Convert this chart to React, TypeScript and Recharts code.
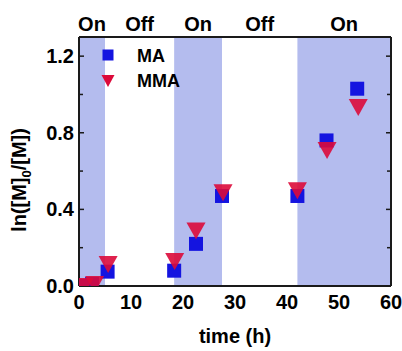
import React from 'react';
import {
  ScatterChart,
  Scatter,
  XAxis,
  YAxis,
  ReferenceArea,
  Legend,
} from 'recharts';

// reaction time (h) and conversion values
const maTime = [0.5, 2.5, 5.5, 18.3, 22.5, 27.5, 42, 47.6, 53.5];
const maValue = [0.0, 0.01, 0.075, 0.08, 0.22, 0.47, 0.47, 0.76, 1.03];
const mmaTime = [1, 3, 5.6, 18.4, 22.5, 27.7, 42, 47.7, 53.7];
const mmaValue = [0.0, 0.01, 0.115, 0.13, 0.29, 0.49, 0.5, 0.71, 0.935];

// light on / off periods
const phaseStart = [0, 5, 18.3, 27.5, 42];
const phaseEnd = [5, 18.3, 27.5, 42, 60];
const phaseLabel = ['On', 'Off', 'On', 'Off', 'On'];

const xMajorTicks = [0, 10, 20, 30, 40, 50, 60];
const xMinorTicks = [5, 15, 25, 35, 45, 55];
const yMajorTicks = [0, 0.4, 0.8, 1.2];
const yMinorTicks = [0.2, 0.6, 1.0];

const maData = maTime.map((t, i) => ({ t, v: maValue[i] }));
const mmaData = mmaTime.map((t, i) => ({ t, v: mmaValue[i] }));

const FONT = '"Liberation Sans", Arial, sans-serif';
const BLUE = '#1414e0';
const RED = '#dc0a3a';
const SHADE = '#b4bcee';
const AXIS = '#1a1a1a';

const SquareMark = ({ cx, cy }: any) => (
  <rect x={cx - 7} y={cy - 7} width={14} height={14} fill={BLUE} />
);

const TriangleMark = ({ cx, cy }: any) => (
  <polygon
    points={`${cx - 9.5},${cy - 8} ${cx + 9.5},${cy - 8} ${cx},${cy + 9}`}
    fill={RED}
    fillOpacity={0.9}
  />
);

const NoLabel = () => <g />;

const tickStyle = { fill: '#000', fontSize: 20, fontWeight: 'bold', fontFamily: FONT };
const tickLineStyle = { stroke: AXIS, strokeWidth: 1.5 };

const YLabel = () => (
  <text
    transform="translate(26,180) rotate(-90)"
    textAnchor="middle"
    fontFamily={FONT}
    fontWeight="bold"
    fontSize={20}
    fill="#000"
  >
    ln([M]
    <tspan fontSize={13} dy={5}>0</tspan>
    <tspan dy={-5}>/[M])</tspan>
  </text>
);

const XLabel = () => (
  <text x={235} y={343} textAnchor="middle" fontFamily={FONT} fontWeight="bold" fontSize={20} fill="#000">
    time (h)
  </text>
);

const LegendBox = () => (
  <svg width={100} height={50} style={{ display: 'block' }}>
    <rect x={2.5} y={4.5} width={11} height={11} fill={BLUE} />
    <polygon points="1.5,30 14.5,30 8,42" fill={RED} />
    <text x={37} y={17} fontFamily={FONT} fontWeight="bold" fontSize={18} fill="#000">MA</text>
    <text x={37} y={42} fontFamily={FONT} fontWeight="bold" fontSize={18} fill="#000">MMA</text>
  </svg>
);

// tick-mark-only axes drawn inside the frame
const xMarks = (id: string, orientation: 'top' | 'bottom', ticks: number[], size: number, line: boolean) => (
  <XAxis
    xAxisId={id}
    orientation={orientation}
    type="number"
    domain={[0, 60]}
    allowDataOverflow
    ticks={ticks}
    interval={0}
    mirror
    height={1}
    axisLine={line ? { stroke: AXIS, strokeWidth: 2 } : false}
    tick={NoLabel}
    tickSize={size}
    tickLine={tickLineStyle}
  />
);

const yMarks = (id: string, orientation: 'left' | 'right', ticks: number[], size: number, line: boolean) => (
  <YAxis
    yAxisId={id}
    orientation={orientation}
    type="number"
    domain={[0, 1.3]}
    allowDataOverflow
    ticks={ticks}
    interval={0}
    mirror
    width={1}
    axisLine={line ? { stroke: AXIS, strokeWidth: 2 } : false}
    tick={NoLabel}
    tickSize={size}
    tickLine={tickLineStyle}
  />
);

const App = () => {
  return (
    <div style={{ position: 'absolute', left: 0, top: 0, background: '#fff' }}>
      <ScatterChart width={402} height={351} margin={{ top: 37, right: 11, bottom: 35, left: 20 }}>
        <XAxis
          xAxisId="b"
          type="number"
          dataKey="t"
          domain={[0, 60]}
          ticks={xMajorTicks}
          interval={0}
          allowDataOverflow
          height={30}
          tickLine={false}
          tickSize={0}
          tickMargin={9}
          axisLine={{ stroke: AXIS, strokeWidth: 2 }}
          tick={tickStyle}
          label={<XLabel />}
        />
        {xMarks('bm', 'bottom', xMajorTicks, 5, false)}
        {xMarks('bn', 'bottom', xMinorTicks, 3, false)}
        {xMarks('t', 'top', xMajorTicks, 5, true)}
        {xMarks('tn', 'top', xMinorTicks, 3, false)}

        <YAxis
          yAxisId="l"
          type="number"
          dataKey="v"
          domain={[0, 1.3]}
          ticks={yMajorTicks}
          interval={0}
          allowDataOverflow
          width={59}
          tickLine={false}
          tickSize={0}
          tickMargin={5}
          axisLine={{ stroke: AXIS, strokeWidth: 2 }}
          tick={tickStyle}
          tickFormatter={(v: number) => v.toFixed(1)}
          label={<YLabel />}
        />
        {yMarks('lm', 'left', yMajorTicks, 5, false)}
        {yMarks('ln', 'left', yMinorTicks, 3, false)}
        {yMarks('r', 'right', yMajorTicks, 5, true)}
        {yMarks('rn', 'right', yMinorTicks, 3, false)}

        {phaseStart.map((s, i) => (
          <ReferenceArea
            key={i}
            xAxisId="b"
            yAxisId="l"
            x1={s}
            x2={phaseEnd[i]}
            fill={SHADE}
            fillOpacity={phaseLabel[i] === 'On' ? 1 : 0}
            stroke="none"
            label={{
              value: phaseLabel[i],
              position: 'top',
              offset: 6,
              fill: '#000',
              fontSize: 20,
              fontWeight: 'bold',
              fontFamily: FONT,
            }}
          />
        ))}

        <Scatter name="MA" xAxisId="b" yAxisId="l" data={maData} shape={SquareMark} isAnimationActive={false} />
        <Scatter name="MMA" xAxisId="b" yAxisId="l" data={mmaData} shape={TriangleMark} isAnimationActive={false} />

        <Legend
          layout="horizontal"
          verticalAlign="middle"
          align="center"
          wrapperStyle={{ left: 100, top: 45, width: 100 }}
          content={() => <LegendBox />}
        />
      </ScatterChart>
    </div>
  );
};

export default App;
